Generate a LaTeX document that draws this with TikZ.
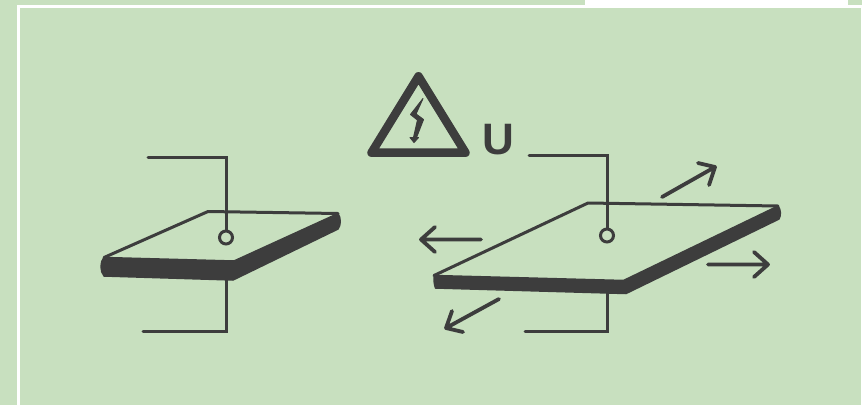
\documentclass[tikz,border=0pt]{standalone}
\usepackage{fontspec}
\setmainfont{Liberation Sans}
\definecolor{bg}{HTML}{C8E0BF}
\definecolor{ink}{HTML}{3D3D3D}
\tikzset{
  wire/.style={draw=ink,line width=3pt,line cap=round,line join=miter},
  thin edge/.style={draw=ink,line width=3pt,line cap=round,line join=round},
  slab/.style={fill=ink,draw=ink,line width=1.5pt,line join=round},
  arrowline/.style={draw=ink,line width=3.8pt,line cap=round,line join=round},
  frameline/.style={draw=white,line width=3pt},
  terminal/.style={circle,draw=ink,line width=3pt,fill=bg,inner sep=0pt,minimum size=13pt}
}
\begin{document}
\begin{tikzpicture}[x=1pt,y=-1pt]
\useasboundingbox (0,0) rectangle (862,405);
\fill[bg] (0,0) rectangle (862,405);
\fill[white] (585,0) rectangle (848,5);
\draw[frameline] (18.5,405) -- (18.5,6.5) -- (862,6.5);
\fill[white] (861,5) rectangle (862,405);
% left plate
\coordinate (LA) at (104,257.5);
\coordinate (LB) at (208,211.5);
\coordinate (LC) at (338,213.5);
\coordinate (LD) at (234,261);
\fill[slab] (LA) -- (LD) -- (LC) .. controls (341,218) and (341,225) .. (338,229) -- (233,280) -- (104,276) .. controls (100,271) and (100,262) .. (LA) -- cycle;
\draw[thin edge] (LA) -- (LB) -- (LC);
\coordinate (LT) at (226,157);
\coordinate (LTe) at (148,157);
\coordinate (LBm) at (226,280);
\coordinate (LBc) at (226,331);
\coordinate (LBe) at (143,331);
\draw[wire] (LTe) -- (LT) -- (226,232);
\draw[wire] (LBm) -- (LBc) -- (LBe);
\node[terminal] (lt) at (226,237.5) {};
% right plate
\coordinate (RA) at (434,275.5);
\coordinate (RB) at (588,203);
\coordinate (RC) at (778,206);
\coordinate (RD) at (623.5,280.5);
\fill[slab] (RA) -- (RD) -- (RC) .. controls (781,210) and (781,215) .. (779,219) -- (626,293.5) -- (435.5,288) .. controls (434,284) and (434,280) .. (RA) -- cycle;
\draw[thin edge] (RA) -- (RB) -- (RC);
\coordinate (RT) at (607,155);
\coordinate (RTe) at (529,155);
\coordinate (RBm) at (607,293);
\coordinate (RBc) at (607,331);
\coordinate (RBe) at (525,331);
\draw[wire] (RTe) -- (RT) -- (607,230);
\draw[wire] (RBm) -- (RBc) -- (RBe);
\node[terminal] (rt) at (607,235.5) {};
% arrows
\draw[arrowline] (662,197) -- (715,167) (698,163) -- (715,167) -- (709,185);
\draw[arrowline] (481,239.5) -- (421,239.5) (435,227) -- (421,239.5) -- (435,252);
\draw[arrowline] (708,264.5) -- (768,264.5) (754,252) -- (768,264.5) -- (754,277);
\draw[arrowline] (499,299) -- (446,328) (463,332) -- (446,328) -- (452,311);
% warning
\draw[draw=ink,line width=8.5pt,line join=round] (418.5,76.3) -- (371.5,152.7) -- (465.5,152.7) -- cycle;
\fill[ink,draw=ink,line width=1pt,line join=round] (423,98.5) -- (410.5,114.5) -- (417.5,120) -- (413.5,137.5) -- (410,137.5) -- (414,142.5) -- (418.5,137.5) -- (416.5,137.5) -- (423.5,119.5) -- (416,114) -- cycle;
\node[inner sep=0pt,text=ink,font=\fontsize{44}{44}\selectfont\bfseries,anchor=center] (U) at (498.5,139.5) {U};
\end{tikzpicture}
\end{document}
